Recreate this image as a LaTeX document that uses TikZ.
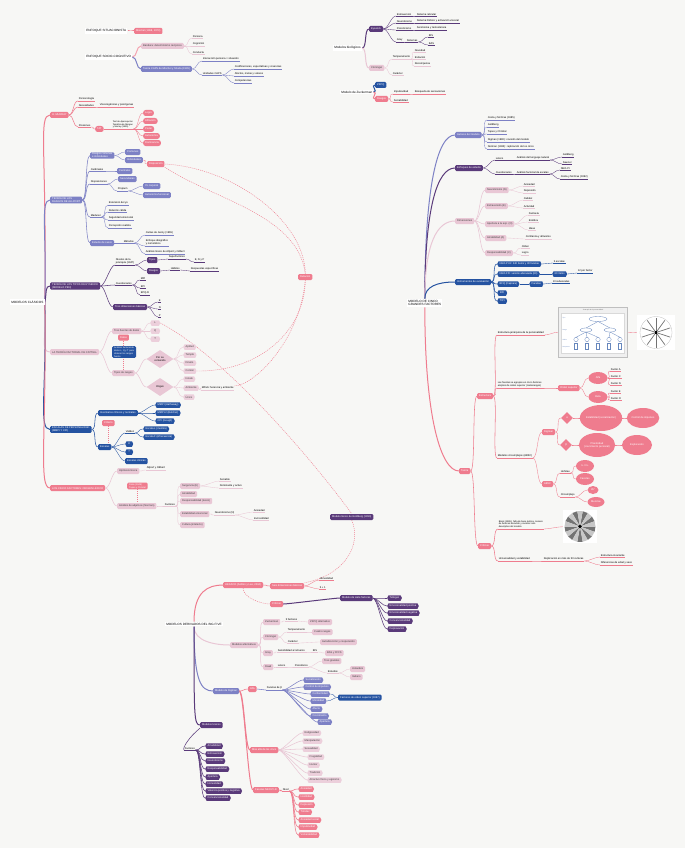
\documentclass[tikz,border=0pt]{standalone}
\usepackage{fontspec}
\setmainfont{Liberation Sans}
\usetikzlibrary{shapes.geometric,shapes.symbols}
\definecolor{bgc}{HTML}{F7F7F5}
\definecolor{pk}{HTML}{EF7C8E}
\definecolor{lp}{HTML}{E9C7D5}
\definecolor{lv}{HTML}{7D81C5}
\definecolor{pu}{HTML}{5A3A7A}
\definecolor{bl}{HTML}{2553A1}
\pgfdeclarelayer{bgl}
\pgfdeclarelayer{lnl}
\pgfsetlayers{bgl,lnl,main}
\newcommand\lnk[3][]{\draw[lk,#1] (#2) to (#3);}
\begin{document}
\begin{tikzpicture}[x=1pt,y=-1pt,
  every node/.style={font=\fontsize{2.6}{3}\selectfont,inner sep=0.8pt,anchor=west},
  rt/.style={font=\fontsize{3.1}{3.8}\selectfont,fill=white,inner sep=1.2pt,align=left},
  bx/.style={fill=#1,text=white,rounded corners=1.2pt,minimum height=6pt,inner xsep=2pt,align=left},
  lb/.style={fill=lp,text=black!75,rounded corners=1.2pt,minimum height=6pt,inner xsep=2pt,align=left},
  tg/.style={signal,signal to=west and east,signal pointer angle=130,fill=#1,text=white,minimum height=5.5pt,inner xsep=1.2pt},
  tl/.style={tg=lp!85,text=black!75},
  ul/.style={anchor=south west,inner sep=0.6pt,align=left,append after command={(\tikzlastnode.south west) edge[draw=#1,line width=0.35pt] (\tikzlastnode.south east)}},
  el/.style={ellipse,fill=pk,text=white,inner sep=0pt,anchor=center,align=center},
  dm/.style={diamond,fill=#1,inner sep=0pt,anchor=center,align=center},
  lk/.style={out=0,in=180,out distance=#1,in distance=#1},lk/.default=5pt,
  w1/.style={line width=1pt},w2/.style={line width=0.55pt},w3/.style={line width=0.35pt},
  dt/.style={draw=pk,line width=0.45pt,dash pattern=on 1pt off 1pt}]
\begin{pgfonlayer}{bgl}
\fill[bgc] (0,0) rectangle (685,848);
\end{pgfonlayer}
\useasboundingbox (0,0) rectangle (685,848);

\node[rt] (t1) at (85,31) {ENFOQUE SITUACIONISTA};
\node[bx=pk] (t1a) at (134,31) {Mischel (1968, 1973)};
\node[rt] (t2) at (85,57) {ENFOQUE SOCIO-COGNITIVO};
\node[lb] (t2a) at (141,46) {Bandura: determinismo recíproco};
\node[ul=lp] (t2a1) at (192,38) {Persona};
\node[ul=lp] (t2a2) at (192,46) {Cognición};
\node[ul=lp] (t2a3) at (192,54) {Conducta};
\node[bx=lv] (t2b) at (141,69) {Teoría CAPS de Mischel y Shoda (1995)};
\node[ul=lv] (t2b1) at (202,61) {Interacción persona × situación};
\node[ul=lv] (t2b2) at (202,75) {Unidades CAPS};
\node[ul=lv] (t2b21) at (234,69) {Codificaciones, expectativas y creencias};
\node[ul=lv] (t2b22) at (234,76) {Afectos, metas y valores};
\node[ul=lv] (t2b23) at (234,83) {Competencias};

\node[rt] (b0) at (333,48) {Modelos biológicos};
\node[bx=pu] (b1) at (369,29) {Eysenck};
\node[ul=pu] (b11) at (396,16) {Extraversión};
\node[ul=pu] (b111) at (416,16) {Sistema reticular};
\node[ul=pu] (b12) at (396,23) {Neuroticismo};
\node[ul=pu] (b121) at (416,23) {Sistema límbico y activación visceral};
\node[ul=pu] (b13) at (396,30) {Psicoticismo};
\node[ul=pu] (b131) at (416,30) {Serotonina y testosterona};
\node[ul=pu] (b14) at (396,42) {Gray};
\node[ul=pu] (b141) at (406,42) {Sistemas};
\node[ul=pu] (b1411) at (428,37) {BIS};
\node[ul=pu] (b1412) at (428,45) {BAS};
\node[lb] (b2) at (369,68) {Cloninger};
\node[ul=lp] (b21) at (392,59) {Temperamento};
\node[ul=lp] (b211) at (414,52) {Novedad};
\node[ul=lp] (b212) at (414,59) {Evitación};
\node[ul=lp] (b213) at (414,66) {Recompensa};
\node[ul=lp] (b22) at (392,75) {Carácter};
\node[rt] (b3) at (340,92) {Modelo de Zuckerman};
\node[bx=bl] (b31) at (375,85) {ZKPQ};
\node[bx=pk] (b32) at (375,99) {Rasgos};
\node[ul=pk] (b321) at (393,94) {Impulsividad};
\node[ul=pk] (b3211) at (414,94) {Búsqueda de sensaciones};
\node[ul=pk] (b322) at (393,102) {Sociabilidad};

\node[rt] (c0) at (10,302) {MODELOS CLÁSICOS};
\node[bx=pk] (c1) at (50,115) {H. MURRAY};
\node[ul=pk] (c11) at (78,101) {Personología};
\node[ul=pk] (c12) at (78,107) {Necesidades};
\node[ul=pk] (c121) at (99,107) {Viscerogénicas y psicógenas};
\node[ul=pk] (c13) at (78,127) {Presiones};
\node[bx=pk,rounded corners=2.5pt] (c131) at (95,129) {TAT};
\node[ul=pk,font=\fontsize{2.2}{2.6}\selectfont] (c132) at (112,129) {Test de Apercepción\\Temática de Morgan\\y Murray (1935)};
\node[bx=pk,rounded corners=2.5pt] (c1321) at (143,113) {Logro};
\node[bx=pk,rounded corners=2.5pt] (c1322) at (143,121) {Afiliación};
\node[bx=pk,rounded corners=2.5pt] (c1323) at (143,129) {Poder};
\node[bx=pk,rounded corners=2.5pt] (c1324) at (143,136) {Autonomía};
\node[bx=pk,rounded corners=2.5pt] (c1325) at (143,143) {Dominancia};

\node[bx=lv] (c2) at (50,200) {TEORÍA DE LOS\\RASGOS DE ALLPORT};
\node[bx=lv] (c21) at (90,155.5) {Rasgos comunes\\e individuales};
\node[bx=lv] (c211) at (125,152) {Comunes};
\node[bx=lv] (c212) at (125,160) {Individuales};
\node[bx=pk] (p1) at (147,164) {Disposición};
\node[ul=lv] (c22) at (90,171) {Cardinales};
\node[bx=lv] (c221) at (117,171) {Centrales};
\node[ul=lv] (c23) at (90,184) {Disposiciones};
\node[bx=lv] (c231) at (118,179) {Secundarias};
\node[ul=lv] (c232) at (117,191) {Propium};
\node[bx=lv] (c2321) at (143,186) {Yo corporal};
\node[bx=lv] (c2322) at (143,195) {Autonomía funcional};
\node[ul=lv] (c24) at (90,217) {Madurez};
\node[ul=lv] (c241) at (108,205) {Extensión del yo};
\node[ul=lv] (c242) at (108,212) {Relación cálida};
\node[ul=lv] (c243) at (108,220) {Seguridad emocional};
\node[ul=lv] (c244) at (108,228) {Percepción realista};
\node[bx=lv] (c25) at (90,243) {Estudio de casos};
\node[ul=lv] (c251) at (123,243) {Métodos};
\node[ul=lv] (c2511) at (145,235) {Cartas de Jenny (1965)};
\node[ul=lv] (c2512) at (145,246) {Enfoque idiográfico\\y nomotético};
\node[ul=lv] (c2513) at (145,254) {Análisis léxico de Allport y Odbert};

\node[bx=pu] (c3) at (50,286) {TEORÍA DE LOS TIPOS DE EYSENCK\\(MODELO PEN)};
\node[ul=pu] (c31) at (115,265) {Niveles de la\\jerarquía (1947)};
\node[bx=pu] (c311) at (147,260) {Tipos};
\node[ul=pu] (c3111) at (168,259) {Superfactores};
\node[ul=pu] (c31111) at (194,262) {E, N y P};
\node[bx=pu] (c312) at (147,271) {Rasgos};
\node[ul=pu] (c3121) at (170,270) {Hábitos};
\node[ul=pu] (c31211) at (190,271) {Respuestas específicas};
\node[ul=pu] (c32) at (115,285) {Cuestionarios};
\node[ul=pu] (c321) at (140,280) {MPI};
\node[ul=pu] (c322) at (140,288) {EPI};
\node[ul=pu] (c323) at (140,295) {EPQ-R};
\node[bx=pu] (c33) at (113,307) {Tres dimensiones básicas};
\node[ul=pu] (c331) at (158,302) {E};
\node[ul=pu] (c332) at (158,309) {N};
\node[ul=pu] (c333) at (158,317) {P};

\node[lb] (c4) at (50,352) {LA TEORÍA FACTORIAL DE CATTELL};
\node[lb] (c41) at (112,331) {Tres fuentes de datos};
\node[tl,minimum width=10pt] (c411) at (150,323) {L};
\node[tl,minimum width=10pt] (c412) at (150,331) {Q};
\node[tl,minimum width=10pt] (c413) at (150,339) {T};
\node[bx=pk] (c4n) at (118,337.5) {Datos};
\node[bx=bl,font=\fontsize{2.3}{2.8}\selectfont] (c4m) at (112,352) {Análisis factorial de\\datos L, Q y T para\\obtener los rasgos\\fuente};
\node[lb] (c42) at (112,373) {Tipos de rasgos};
\node[dm=lp,minimum width=27pt,minimum height=18pt] (c421) at (160,359) {Por su\\contenido};
\node[tl] (c4211) at (183,347) {Aptitud};
\node[tl] (c4212) at (183,355) {Temple};
\node[tl] (c4213) at (183,363) {Dinám.};
\node[tl] (c4214) at (183,371) {Común};
\node[dm=lp,minimum width=27pt,minimum height=18pt] (c422) at (160,387) {Origen};
\node[tl] (c4221) at (183,379) {Innato};
\node[tl] (c4222) at (183,388) {Ambiente};
\node[tl] (c4223) at (183,397) {Único};
\node[ul=lp] (c42221) at (201,390) {MAVA: herencia y ambiente};

\node[bx=bl] (c5) at (50,429.5) {ESCALAS DE PERSONALIDAD\\(MMPI Y CPI)};
\node[bx=bl] (c51) at (98,413) {Inventarios clínicos y normales};
\node[tg=bl] (c511) at (155,405) {MMPI (Hathaway)};
\node[tg=bl] (c512) at (155,413) {MMPI-2 (Butcher)};
\node[tg=bl] (c513) at (155,421) {CPI (Gough)};
\node[bx=pk] (c5n) at (102,423) {Criterio};
\node[bx=bl] (c52) at (98,447) {Escalas};
\node[ul=bl] (c521) at (125,433) {Validez};
\node[tg=bl] (c5211) at (143,429) {Escala L (mentira)};
\node[tg=bl] (c5212) at (143,437) {Escala F (infrecuencia)};
\node[tg=bl,minimum width=8pt] (c522) at (125,444) {K};
\node[tg=bl,minimum width=8pt] (c523) at (125,452) {?};
\node[bx=bl] (c524) at (125,461) {Escalas clínicas};

\node[bx=pk] (c6) at (50,488) {LOS CINCO FACTORES: ORIGEN LÉXICO};
\node[lb] (c61) at (117,471) {Hipótesis léxica};
\node[ul=lp] (c611) at (146,470) {Allport y Odbert};
\node[bx=pk,font=\fontsize{2.3}{2.8}\selectfont] (c6n) at (127,486) {Fiske (1949)\\Tupes y Christal};
\node[lb] (c62) at (117,506) {Análisis de adjetivos (Norman)};
\node[ul=lp] (c621) at (164,506) {Factores};
\node[lb] (c6211) at (180,486) {Surgencia (E)};
\node[ul=lp] (c62111) at (219,481) {Sociable};
\node[ul=lp] (c62112) at (219,488) {Dominante y activo};
\node[lb] (c6212) at (180,494) {Amabilidad};
\node[lb] (c6213) at (180,501) {Responsabilidad (tesón)};
\node[lb] (c6214) at (180,514) {Estabilidad emocional};
\node[ul=lp] (c62141) at (214,515) {Neuroticismo (N)};
\node[ul=lp] (c621411) at (253,512) {Ansiedad};
\node[ul=lp] (c621412) at (253,520) {Ira-hostilidad};
\node[lb] (c6215) at (180,525) {Cultura (intelecto)};

\node[bx=pk] (p2) at (298,277) {Relación};
\node[bx=pu] (m1) at (330,517) {Modelo léxico de Goldberg (1990)};

\node[rt] (r0) at (407,303) {MODELO DE CINCO\\GRANDES FACTORES};
\node[bx=lv] (r1) at (455,135) {Autores del modelo};
\node[ul=lv] (r11) at (487,120) {Costa y McCrae (1985)};
\node[ul=lv] (r12) at (487,127) {Goldberg};
\node[ul=lv] (r13) at (487,134) {Tupes y Christal};
\node[ul=lv] (r14) at (487,142) {Digman (1990): revisión del modelo};
\node[ul=lv] (r15) at (487,149) {Norman (1963): replicación de los cinco};
\node[bx=pu] (r2) at (455,168) {Enfoques de estudio};
\node[ul=pu] (r21) at (495,160) {Léxico};
\node[ul=pu] (r211) at (516,160) {Análisis del lenguaje natural};
\node[ul=pu] (r2111) at (562,157) {Goldberg};
\node[ul=pu] (r2112) at (562,164) {Saucier};
\node[ul=pu] (r22) at (495,174) {Cuestionarios};
\node[ul=pu] (r221) at (516,174) {Análisis factorial de escalas};
\node[ul=pu] (r2211) at (560,170) {NEO-PI};
\node[ul=pu] (r2212) at (560,179) {Costa y McCrae (1992)};
\node[lb] (r3) at (455,221) {Dimensiones};
\node[lb] (r31) at (485,190) {Neuroticismo (N)};
\node[ul=lp] (r311) at (523,186) {Ansiedad};
\node[ul=lp] (r312) at (523,193) {Depresión};
\node[lb] (r32) at (485,206) {Extraversión (E)};
\node[ul=lp] (r321) at (523,200) {Calidez};
\node[ul=lp] (r322) at (523,208) {Actividad};
\node[lb] (r33) at (485,224) {Apertura a la exp. (O)};
\node[ul=lp] (r331) at (528,215) {Fantasía};
\node[ul=lp] (r332) at (528,222) {Estética};
\node[ul=lp] (r333) at (528,230) {Ideas};
\node[lb] (r34) at (485,238) {Amabilidad (A)};
\node[ul=lp] (r341) at (525,239) {Confianza y altruismo};
\node[lb] (r35) at (485,253) {Responsabilidad (C)};
\node[ul=lp] (r351) at (521,248) {Orden};
\node[ul=lp] (r352) at (521,255) {Logro};
\node[bx=bl] (r4) at (455,282) {Instrumentos de evaluación};
\node[tg=bl] (r41) at (497,264) {NEO-PI-R: 240 ítems y 30 facetas};
\node[ul=bl] (r411) at (553,263) {5 escalas};
\node[tg=bl] (r42) at (497,274) {NEO-FFI: versión abreviada (60)};
\node[tg=bl] (r421) at (552,274) {60 ítems};
\node[ul=bl] (r4211) at (577,273) {12 por factor};
\node[tg=bl] (r43) at (497,284) {BFQ (Caprara)};
\node[tg=bl] (r431) at (529,284) {Facetas};
\node[ul=bl] (r4311) at (552,283) {10 subescalas};
\node[tg=bl,minimum width=10pt] (r44) at (497,293) {BFI};
\node[tg=bl,minimum width=10pt] (r45) at (497,301) {TIPI};

\node[bx=pk] (r5) at (459,471) {Teoría};
\node[bx=pk] (r51) at (477,396) {Estructura};
\node[ul=pk] (r511) at (497,335) {Estructura jerárquica de la personalidad};
\node[draw=black!25,fill=black!6,minimum width=69pt,minimum height=50pt,anchor=north west,inner sep=0] (im1) at (558,307) {};
\node[draw=black!15,fill=white,minimum width=63pt,minimum height=40pt,anchor=north west,inner sep=0] (im1b) at (561,313) {};
\node[font=\fontsize{1.6}{2}\selectfont,text=black!60,anchor=center] (im1t) at (593,310) {Jerarquía de la personalidad};
\foreach \yy/\lab in {318/Tipo,330/Rasgo,340/Hábito,347/Respuesta}
  {\node[font=\fontsize{1.5}{2}\selectfont,text=bl!70] (im1l\yy) at (561.5,\yy) {\lab};}
\begin{scope}[bl!70,line width=0.3pt]
\draw (598,319) ellipse (9 and 2.5);
\draw (586,330) ellipse (6 and 2) (610,330) ellipse (6 and 2);
\foreach \x in {576,587,598,609,620} {\draw (\x,339.5) circle (2.2); \draw (\x-1.5,343.5) rectangle (\x+1.5,349);}
\draw (598,321.5) -- (586,328) (598,321.5) -- (610,328);
\draw (586,332) -- (576,337.3) (586,332) -- (587,337.3) (586,332) -- (598,337.3);
\draw (610,332) -- (609,337.3) (610,332) -- (620,337.3);
\end{scope}
\node[fill=white,minimum width=38pt,minimum height=35pt,anchor=north west,inner sep=0] (im2) at (637,315) {};
\draw[black!25,line width=0.3pt] (656,332.5) circle (16);
\foreach \a in {18,54,90,126,162} {\draw[black!55,line width=0.7pt] (656,332.5) ++(\a:15) -- ++(\a+180:30);}
\fill[black] (654.6,331.1) rectangle (657.4,333.9);
\node[ul=pk,font=\fontsize{2.4}{2.8}\selectfont] (r512) at (497,388) {Las facetas se agrupan en cinco factores\\amplios de orden superior (metarrasgos)};
\node[bx=pk] (r5121) at (558,388) {Orden superior};
\node[el,minimum width=19pt,minimum height=12pt] (r51211) at (598,378) {Alfa};
\node[el,minimum width=19pt,minimum height=12pt] (r51212) at (598,397) {Beta};
\node[ul=pk] (r512111) at (610,371) {Factor A};
\node[ul=pk] (r512112) at (610,378) {Factor C};
\node[ul=pk] (r512113) at (610,385) {Factor N};
\node[ul=pk] (r512121) at (610,393) {Factor E};
\node[ul=pk] (r512122) at (610,400) {Factor O};
\node[ul=pk] (r513) at (497,458) {Modelos circumplejos (AB5C)};
\node[bx=pk] (r5131) at (542,432) {Digman};
\node[dm=pk,text=white,minimum width=12pt,minimum height=12pt] (r51311) at (567,418) {α};
\node[dm=pk,text=white,minimum width=12pt,minimum height=12pt] (r51312) at (566,445) {β};
\node[el,minimum width=42pt,minimum height=26pt] (r513111) at (601,418) {Estabilidad (socialización)};
\node[el,minimum width=30pt,minimum height=20pt] (r5131111) at (643,418) {Control de impulsos};
\node[el,minimum width=36pt,minimum height=24pt] (r513121) at (597,445) {Plasticidad\\(crecimiento personal)};
\node[el,minimum width=30pt,minimum height=20pt] (r5131211) at (637,445) {Exploración};
\node[bx=pk] (r5132) at (542,484) {AB5C};
\node[ul=pk] (r51321) at (560,473) {Hofstee};
\node[el,minimum width=18pt,minimum height=12pt] (r513211) at (585,466) {I+ / II+};
\node[el,minimum width=18pt,minimum height=12pt] (r513212) at (585,479) {Facetas};
\node[ul=pk] (r51322) at (560,497) {Circumplejo};
\node[el,minimum width=11pt,minimum height=8pt] (r513221) at (593,490) {45°};
\node[el,minimum width=17pt,minimum height=10pt] (r513222) at (596,502) {Mezclas};
\node[bx=pk] (r52) at (478,546) {Críticas};
\node[ul=pk,font=\fontsize{2.3}{2.8}\selectfont] (r521) at (498,529) {Block (1995): falta de base teórica, número\\de factores discutido y carácter solo\\descriptivo del modelo};
\node[fill=white,minimum width=34pt,minimum height=33pt,anchor=north west,inner sep=0] (im3) at (563,510) {};
\foreach \a in {0,40,...,320} {\fill[black!55] (580,526.5) -- +(\a:15.5) -- +(\a+20:15.5) -- cycle;}
\foreach \a in {20,60,...,340} {\fill[black!22] (580,526.5) -- +(\a:15.5) -- +(\a+20:15.5) -- cycle;}
\fill[black] (580,526.5) circle (1.8);
\node[ul=pk] (r522) at (498,561) {Universalidad y estabilidad};
\node[ul=pk] (r5221) at (543,561) {Replicación en más de 50 culturas};
\node[ul=pk] (r52211) at (600,557) {Estructura invariante};
\node[ul=pk] (r52212) at (600,565) {Diferencias de edad y sexo};

\node[rt] (d0) at (165,624) {MODELOS DERIVADOS DEL BIG FIVE};
\node[bx=pk] (d1) at (223,585) {HEXACO (Ashton y Lee, 2004)};
\node[bx=pk] (d11) at (270,586) {Seis dimensiones básicas};
\node[ul=pk] (d111) at (319,580) {Honestidad};
\node[ul=pk] (d112) at (319,589) {5 + 1};
\node[bx=pk] (d2) at (270,604) {Críticas};
\node[bx=pu] (d3) at (340,598) {Modelo de siete factores};
\node[tg=pu] (d31) at (387,598) {Tellegen};
\node[tg=pu] (d32) at (387,606) {Emocionalidad positiva};
\node[tg=pu] (d33) at (387,613) {Emocionalidad negativa};
\node[tg=pu] (d34) at (387,621) {Convencionalidad};
\node[tg=pu] (d35) at (387,629) {Depravación};
\node[lb] (d4) at (230,645) {Modelos alternativos};
\node[lb] (d41) at (263,622) {Zuckerman};
\node[ul=lp] (d411) at (285,621) {5 factores};
\node[lb] (d4111) at (308,622) {ZKPQ alternativo};
\node[lb] (d42) at (263,637) {Cloninger};
\node[ul=lp] (d421) at (287,632) {Temperamento};
\node[lb] (d4211) at (312,632) {Cuatro rasgos};
\node[ul=lp] (d422) at (287,643) {Carácter};
\node[lb] (d4221) at (320,642) {Autodirección y cooperación};
\node[lb] (d43) at (263,653) {Gray};
\node[ul=lp] (d431) at (277,652) {Sensibilidad al refuerzo};
\node[ul=lp] (d4311) at (312,652) {BIS};
\node[lb] (d43111) at (325,653) {BAS y FFFS};
\node[lb] (d44) at (263,667) {Raad};
\node[ul=lp] (d441) at (277,667) {Léxico};
\node[ul=lp] (d4411) at (294,667) {Psicoléxico};
\node[lb] (d44111) at (322,661) {Tres grandes};
\node[ul=lp] (d44112) at (327,673) {Estudios};
\node[lb] (d441121) at (350,669) {Holandés};
\node[lb] (d441122) at (350,677) {Italiano};
\node[bx=lv] (d5) at (213,691) {Modelo de Digman};
\node[bx=pk] (d51) at (248,689) {Alfa};
\node[ul=lv] (d511) at (266,690) {Facetas de β};
\node[tg=lv] (d5111) at (303,680) {Socialización};
\node[tg=lv] (d5112) at (303,687) {Control de impulsos};
\node[tg=lv] (d5113) at (310,694) {Conformidad};
\node[tg=lv] (d5114) at (310,701) {Moralidad};
\node[tg=lv] (d5115) at (310,709) {Afecto};
\node[tg=lv] (d5116) at (310,716) {Crecimiento};
\node[tg=lv] (d5117) at (317,722) {Apertura};
\node[bx=bl] (d5x) at (338,697.5) {Factores de orden superior (1997)};
\node[bx=pk] (d52) at (250,750) {Más allá de los cinco};
\node[tl] (d521) at (302,733) {Religiosidad};
\node[tl] (d522) at (302,741) {Manipulación};
\node[tl] (d523) at (302,749) {Sexualidad};
\node[tl] (d524) at (307,757) {Frugalidad};
\node[tl] (d525) at (307,765) {Humor};
\node[tl] (d526) at (307,773) {Tradición};
\node[tl] (d527) at (307,780) {Atractivo físico y egoísmo};
\node[bx=pk] (d53) at (253,790) {Facetas NEO-PI-R};
\node[ul=pk] (d531) at (282,791) {Nivel};
\node[tg=pk] (d5311) at (298,789) {Ansiedad};
\node[tg=pk] (d5312) at (298,797) {Hostilidad};
\node[tg=pk] (d5313) at (298,805) {Depresión};
\node[tg=pk] (d5314) at (298,812) {Timidez};
\node[tg=pk] (d5315) at (298,820) {Ansiedad social};
\node[tg=pk] (d5316) at (298,827) {Impulsividad};
\node[tg=pk] (d5317) at (298,835) {Vulnerabilidad};
\node[bx=pu] (d6) at (200,725) {Modelos léxicos};
\node[ul=pu] (d61) at (184,750) {Factores};
\node[tg=pu] (d611) at (205,746) {Amabilidad};
\node[tg=pu] (d612) at (205,754) {Extraversión};
\node[tg=pu] (d613) at (205,761) {Neuroticismo};
\node[tg=pu] (d614) at (205,769) {Responsabilidad};
\node[tg=pu] (d615) at (205,777) {Apertura};
\node[tg=pu] (d616) at (205,784) {Honestidad};
\node[tg=pu] (d617) at (205,791) {Valencia positiva y negativa};
\node[tg=pu] (d618) at (205,798) {Convencionalidad};

\begin{pgfonlayer}{lnl}
\lnk[pk,w1]{t1.east}{t1a.west}
\lnk[pk!70,w1]{t2.east}{t2a.west}
\lnk[lv,w1]{t2.east}{t2b.west}
\foreach \n in {t2a1,t2a2,t2a3} {\lnk[lp,w3]{t2a.east}{\n.south west}}
\lnk[lv,w3]{t2b.east}{t2b1.south west}
\lnk[lv,w3]{t2b.east}{t2b2.south west}
\foreach \n in {t2b21,t2b22,t2b23} {\lnk[lv,w3]{t2b2.south east}{\n.south west}}

\lnk[pu,w1]{b0.east}{b1.west}
\lnk[lp,w1]{b0.east}{b2.west}
\foreach \n in {b11,b12,b13,b14} {\lnk[pu,w3]{b1.east}{\n.south west}}
\lnk[pu,w3]{b11.south east}{b111.south west}
\lnk[pu,w3]{b12.south east}{b121.south west}
\lnk[pu,w3]{b13.south east}{b131.south west}
\lnk[pu,w3]{b14.south east}{b141.south west}
\lnk[pu,w3]{b141.south east}{b1411.south west}
\lnk[pu,w3]{b141.south east}{b1412.south west}
\lnk[lp,w3]{b2.east}{b21.south west}
\lnk[lp,w3]{b2.east}{b22.south west}
\foreach \n in {b211,b212,b213} {\lnk[lp,w3]{b21.south east}{\n.south west}}
\lnk[bl,w1]{b3.east}{b31.west}
\lnk[pk,w1]{b3.east}{b32.west}
\lnk[pk,w3]{b32.east}{b321.south west}
\lnk[pk,w3]{b32.east}{b322.south west}
\lnk[pk,w3]{b321.south east}{b3211.south west}

\draw[pk,w1] (c0.east) .. controls +(2,-150) and +(-12,0) .. (c1.west);
\draw[lv,w1] (c0.east) .. controls +(2,-70) and +(-10,0) .. (c2.west);
\draw[pu,w1] (c0.east) .. controls +(2,-10) and +(-5,0) .. (c3.west);
\draw[lp,w1] (c0.east) .. controls +(2,35) and +(-10,0) .. (c4.west);
\draw[bl,w1] (c0.east) .. controls +(2,90) and +(-12,0) .. (c5.west);
\draw[pk,w1] (c0.east) .. controls +(2,130) and +(-12,0) .. (c6.west);

\foreach \n in {c11,c12,c13} {\lnk[pk,w2]{c1.east}{\n.south west}}
\lnk[pk,w3]{c12.south east}{c121.south west}
\lnk[pk,w3]{c13.south east}{c131.west}
\lnk[pk,w3]{c131.east}{c132.south west}
\foreach \n in {c1321,c1322,c1323,c1324,c1325} {\lnk[pk,w3]{c132.south east}{\n.west}}

\lnk[lv,w2]{c2.east}{c21.west}
\foreach \n in {c22,c23,c24} {\lnk[lv,w2]{c2.east}{\n.south west}}
\lnk[lv,w2]{c2.east}{c25.west}
\lnk[lv,w3]{c21.east}{c211.west}
\lnk[lv,w3]{c21.east}{c212.west}
\lnk[pk,w3]{c212.east}{p1.west}
\lnk[lv,w3]{c22.south east}{c221.west}
\lnk[lv,w3]{c23.south east}{c231.west}
\lnk[lv,w3]{c23.south east}{c232.south west}
\lnk[lv,w3]{c232.south east}{c2321.west}
\lnk[lv,w3]{c232.south east}{c2322.west}
\foreach \n in {c241,c242,c243,c244} {\lnk[lv,w3]{c24.south east}{\n.south west}}
\lnk[lv,w3]{c25.east}{c251.south west}
\foreach \n in {c2511,c2512,c2513} {\lnk[lv,w3]{c251.south east}{\n.south west}}

\lnk[pu,w2]{c3.east}{c31.south west}
\lnk[pu,w2]{c3.east}{c32.south west}
\lnk[pu,w2]{c3.east}{c33.west}
\lnk[pu,w3]{c31.south east}{c311.west}
\lnk[pu,w3]{c31.south east}{c312.west}
\lnk[pu,w3]{c311.east}{c3111.south west}
\lnk[pu,w3]{c3111.south east}{c31111.south west}
\lnk[pu,w3]{c312.east}{c3121.south west}
\lnk[pu,w3]{c3121.south east}{c31211.south west}
\foreach \n in {c321,c322,c323} {\lnk[pu,w3]{c32.south east}{\n.south west}}
\foreach \n in {c331,c332,c333} {\lnk[pu,w3]{c33.east}{\n.south west}}

\lnk[lp,w2]{c4.east}{c41.west}
\lnk[lp,w2]{c4.east}{c42.west}
\foreach \n in {c411,c412,c413} {\lnk[lp,w3]{c41.east}{\n.west}}
\lnk[lp,w2]{c42.east}{c421.west}
\lnk[lp,w2]{c42.east}{c422.west}
\foreach \n in {c4211,c4212,c4213,c4214} {\lnk[lp,w3]{c421.east}{\n.west}}
\foreach \n in {c4221,c4222,c4223} {\lnk[lp,w3]{c422.east}{\n.west}}
\lnk[lp,w3]{c4222.east}{c42221.south west}
\draw[dt] (c4n.south) -- (c42.north -| c4n.south);

\lnk[bl,w2]{c5.east}{c51.west}
\lnk[bl,w2]{c5.east}{c52.west}
\foreach \n in {c511,c512,c513} {\lnk[bl,w3]{c51.east}{\n.west}}
\lnk[bl,w3]{c52.east}{c521.south west}
\foreach \n in {c522,c523,c524} {\lnk[bl,w3]{c52.east}{\n.west}}
\lnk[bl,w3]{c521.south east}{c5211.west}
\lnk[bl,w3]{c521.south east}{c5212.west}
\draw[dt] (c5n.south) -- (c52.north -| c5n.south);

\lnk[lp,w2]{c6.east}{c61.west}
\lnk[lp,w2]{c6.east}{c62.west}
\lnk[lp,w3]{c61.east}{c611.south west}
\lnk[lp,w3]{c62.east}{c621.south west}
\foreach \n in {c6211,c6212,c6213,c6214,c6215} {\lnk[lp,w3]{c621.south east}{\n.west}}
\lnk[lp,w3]{c6211.east}{c62111.south west}
\lnk[lp,w3]{c6211.east}{c62112.south west}
\lnk[lp,w3]{c6214.east}{c62141.south west}
\lnk[lp,w3]{c62141.south east}{c621411.south west}
\lnk[lp,w3]{c62141.south east}{c621412.south west}
\draw[dt] (c6n.south) -- (c62.north -| c6n.south);

\draw[dt] (p1.east) .. controls (235,168) and (305,222) .. (p2.north);
\draw[dt] (p1.south east) .. controls (215,200) and (298,215) .. (p2.north);
\draw[dt] (p2.south) .. controls (305,330) and (260,372) .. (c4214.east);
\draw[dt] (p2.south) .. controls (300,340) and (255,385) .. (c42221.north east);
\draw[dt] (c411.east) .. controls (230,360) and (320,470) .. (m1.north);
\draw[dt] (m1.south) .. controls (362,545) and (345,575) .. (d11.north east);

\draw[lv,w1] (r0.north) .. controls +(0,-110) and +(-18,0) .. (r1.west);
\draw[pu,w1] (r0.north) .. controls +(0,-90) and +(-18,0) .. (r2.west);
\draw[lp,w1] (r0.north) .. controls +(0,-55) and +(-18,0) .. (r3.west);
\draw[bl,w1] (r0.north) .. controls +(0,-12) and +(-18,0) .. (r4.west);
\draw[pk,w1] (r0.south) .. controls +(0,110) and +(-18,0) .. (r5.west);
\foreach \n in {r11,r12,r13,r14,r15} {\lnk[lv,w3]{r1.east}{\n.south west}}
\lnk[pu,w3]{r2.east}{r21.south west}
\lnk[pu,w3]{r2.east}{r22.south west}
\lnk[pu,w3]{r21.south east}{r211.south west}
\lnk[pu,w3]{r211.south east}{r2111.south west}
\lnk[pu,w3]{r211.south east}{r2112.south west}
\lnk[pu,w3]{r22.south east}{r221.south west}
\lnk[pu,w3]{r221.south east}{r2211.south west}
\lnk[pu,w3]{r221.south east}{r2212.south west}
\foreach \n in {r31,r32,r33,r34,r35} {\lnk[lp,w2]{r3.east}{\n.west}}
\lnk[lp,w3]{r31.east}{r311.south west}
\lnk[lp,w3]{r31.east}{r312.south west}
\lnk[lp,w3]{r32.east}{r321.south west}
\lnk[lp,w3]{r32.east}{r322.south west}
\foreach \n in {r331,r332,r333} {\lnk[lp,w3]{r33.east}{\n.south west}}
\lnk[lp,w3]{r34.east}{r341.south west}
\lnk[lp,w3]{r35.east}{r351.south west}
\lnk[lp,w3]{r35.east}{r352.south west}
\foreach \n in {r41,r42,r43,r44,r45} {\lnk[bl,w2]{r4.east}{\n.west}}
\lnk[bl,w3]{r41.east}{r411.south west}
\lnk[bl,w3]{r42.east}{r421.west}
\lnk[bl,w3]{r421.east}{r4211.south west}
\lnk[bl,w3]{r43.east}{r431.west}
\lnk[bl,w3]{r431.east}{r4311.south west}
\lnk[pk,w2]{r5.east}{r51.west}
\lnk[pk,w2]{r5.east}{r52.west}
\foreach \n in {r511,r512,r513} {\lnk[pk,w2]{r51.east}{\n.south west}}
\lnk[pk,w3]{r511.south east}{im1.west}
\lnk[pk,w3]{im1.east}{im2.west}
\lnk[pk,w3]{r512.south east}{r5121.west}
\lnk[pk,w3]{r5121.east}{r51211.west}
\lnk[pk,w3]{r5121.east}{r51212.west}
\foreach \n in {r512111,r512112,r512113} {\lnk[pk,w3]{r51211.east}{\n.south west}}
\foreach \n in {r512121,r512122} {\lnk[pk,w3]{r51212.east}{\n.south west}}
\lnk[pk,w3]{r513.south east}{r5131.west}
\lnk[pk,w3]{r513.south east}{r5132.west}
\lnk[pk,w3]{r5131.east}{r51311.west}
\lnk[pk,w3]{r5131.east}{r51312.west}
\lnk[pk,w3]{r51311.east}{r513111.west}
\lnk[pk,w3]{r513111.east}{r5131111.west}
\lnk[pk,w3]{r51312.east}{r513121.west}
\lnk[pk,w3]{r513121.east}{r5131211.west}
\lnk[pk,w3]{r5132.east}{r51321.south west}
\lnk[pk,w3]{r5132.east}{r51322.south west}
\lnk[pk,w3]{r51321.south east}{r513211.west}
\lnk[pk,w3]{r51321.south east}{r513212.west}
\lnk[pk,w3]{r51322.south east}{r513221.west}
\lnk[pk,w3]{r51322.south east}{r513222.west}
\lnk[pk,w2]{r52.east}{r521.south west}
\lnk[pk,w2]{r52.east}{r522.south west}
\lnk[pk,w3]{r521.south east}{im3.west}
\lnk[pk,w3]{r522.south east}{r5221.south west}
\lnk[pk,w3]{r5221.south east}{r52211.south west}
\lnk[pk,w3]{r5221.south east}{r52212.south west}

\draw[pk,w1] (d0.north) .. controls +(0,-30) and +(-15,0) .. (d1.west);
\draw[lp,w1] (d0.south) .. controls +(0,15) and +(-15,0) .. (d4.west);
\draw[lv,w1] (d0.south) .. controls +(0,55) and +(-12,0) .. (d5.west);
\draw[pu,w1] (d0.south) .. controls +(0,90) and +(-6,0) .. (d6.west);
\lnk[pk,w2]{d1.east}{d11.west}
\lnk[pk,w3]{d11.east}{d111.south west}
\lnk[pk,w3]{d11.east}{d112.south west}
\draw[dt] (d1.south) .. controls +(0,10) and +(-8,0) .. (d2.west);
\lnk[pu,w1]{d2.east}{d3.west}
\foreach \n in {d31,d32,d33,d34,d35} {\lnk[pu,w2]{d3.east}{\n.west}}
\foreach \n in {d41,d42,d43,d44} {\lnk[lp,w2]{d4.east}{\n.west}}
\lnk[lp,w3]{d41.east}{d411.south west}
\lnk[lp,w3]{d411.south east}{d4111.west}
\lnk[lp,w3]{d42.east}{d421.south west}
\lnk[lp,w3]{d42.east}{d422.south west}
\lnk[lp,w3]{d421.south east}{d4211.west}
\lnk[lp,w3]{d422.south east}{d4221.west}
\lnk[lp,w3]{d43.east}{d431.south west}
\lnk[lp,w3]{d431.south east}{d4311.south west}
\lnk[lp,w3]{d4311.south east}{d43111.west}
\lnk[lp,w3]{d44.east}{d441.south west}
\lnk[lp,w3]{d441.south east}{d4411.south west}
\lnk[lp,w3]{d4411.south east}{d44111.west}
\lnk[lp,w3]{d4411.south east}{d44112.south west}
\lnk[lp,w3]{d44112.south east}{d441121.west}
\lnk[lp,w3]{d44112.south east}{d441122.west}
\lnk[pk,w2]{d5.east}{d51.west}
\lnk[pk,w1]{d5.east}{d52.west}
\lnk[pk,w1]{d5.east}{d53.west}
\lnk[lv,w2]{d51.east}{d511.south west}
\foreach \n in {d5111,d5112,d5113,d5114,d5115,d5116,d5117} {\lnk[lv,w2]{d511.south east}{\n.west}}
\lnk[bl,w3]{d5113.east}{d5x.west}
\lnk[bl,w3]{d5114.east}{d5x.west}
\foreach \n in {d521,d522,d523,d524,d525,d526,d527} {\lnk[lp,w2]{d52.east}{\n.west}}
\lnk[pk,w2]{d53.east}{d531.south west}
\foreach \n in {d5311,d5312,d5313,d5314,d5315,d5316,d5317} {\lnk[pk,w2]{d531.south east}{\n.west}}
\draw[pu,w2] (d6.south west) .. controls (190,736) and (182,748) .. (d61.south west);
\foreach \n in {d611,d612,d613,d614,d615,d616,d617,d618} {\lnk[pu,w2]{d61.south east}{\n.west}}
\end{pgfonlayer}
\end{tikzpicture}
\end{document}
